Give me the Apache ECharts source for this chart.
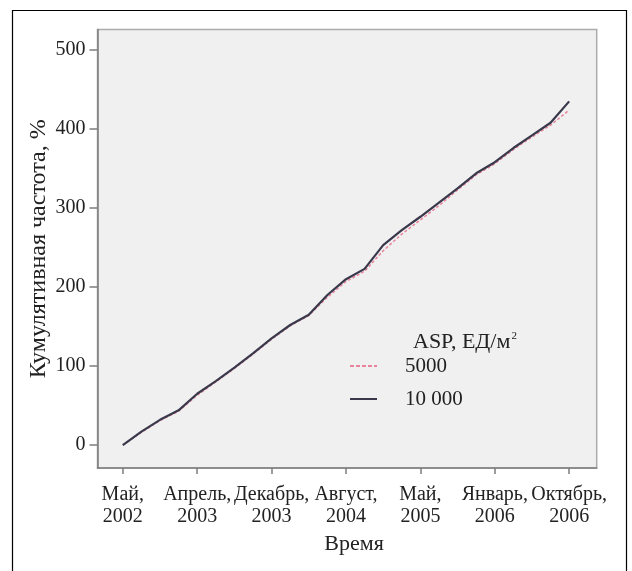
<!DOCTYPE html>
<html>
<head>
<meta charset="utf-8">
<script src="https://cdn.jsdelivr.net/npm/echarts@6/dist/echarts.min.js"></script>
<style>
html,body{margin:0;padding:0;background:#fff;}
#chart{width:632px;height:571px;}
</style>
</head>
<body>
<div id="chart"></div>
<script>
// x positions in tick units (0 = "Май, 2002", 6 = "Октябрь, 2006")
var xPositions = [0,0.25,0.5,0.75,1,1.25,1.5,1.75,2,2.25,2.5,2.75,3,3.25,3.5,3.75,4,4.25,4.5,4.75,5,5.25,5.5,5.75,6];
var series10000 = [0,17,32,44,65,81,98,116,135,152,165,190,210,223,253,272,289,307,325,344,358,376,392,408,435];
var series5000  = [0,16,31,43,63,80,97,115,134,151,164,187,207,220,246,267,285,303,323,342,356,374,390,405,424];
var xTickLabels = ['Май,\n2002','Апрель,\n2003','Декабрь,\n2003','Август,\n2004','Май,\n2005','Январь,\n2006','Октябрь,\n2006'];
var xTickPositions = [0,1,2,3,4,5,6];
var yTicks = [0,100,200,300,400,500];
var seriesNames = ['5000','10 000'];

function pairs(xs, ys){ return xs.map(function(x,i){ return [x, ys[i]]; }); }

var font = 'Liberation Serif';
var pinkIcon = 'path://M0,0H4V2H0Z M6,0H10V2H6Z M12,0H16V2H12Z M18,0H22V2H18Z M24,0H27V2H24Z';
var solidIcon = 'path://M0,0H27V2H0Z';
var chart = echarts.init(document.getElementById('chart'), null, {renderer:'canvas'});
chart.setOption({
  animation:false,
  backgroundColor:'#ffffff',
  textStyle:{fontFamily:font},
  graphic:[
    {type:'rect', shape:{x:12.5,y:10.5,width:614,height:620}, style:{fill:'none', stroke:'#000', lineWidth:1.2}, z:-10},
    {type:'text', left:413, top:331, style:{
      text:'{a|ASP, ЕД/м}{s|2}',
      rich:{a:{fontFamily:font, fontSize:22, fill:'#222', color:'#222'},
            s:{fontFamily:font, fontSize:11, fill:'#222', color:'#222', verticalAlign:'top', padding:[0,0,8,1]}}
    }}
  ],
  grid:{left:97.5, top:29.5, right:35.3, bottom:103, show:true, backgroundColor:'#f0f0f0', borderColor:'#ababab', borderWidth:1.5},
  legend:{
    orient:'vertical', left:350, top:355.5, padding:0, itemWidth:27, itemHeight:2.5, itemGap:12,
    data:[{name:seriesNames[0], icon:pinkIcon},{name:seriesNames[1], icon:solidIcon}],
    textStyle:{fontFamily:font, fontSize:21, lineHeight:21, color:'#222', padding:[0,0,0,23]}
  },
  xAxis:{
    type:'value', min:-0.34, max:6.37,
    name:'Время', nameLocation:'middle', nameGap:63,
    nameTextStyle:{fontFamily:font, fontSize:22, color:'#222', padding:[0,0,0,14]},
    axisLine:{show:true, onZero:false, lineStyle:{color:'#7d7d7d', width:1.5}},
    axisTick:{show:true, length:6, customValues:xTickPositions, lineStyle:{color:'#7d7d7d', width:1.5}},
    axisLabel:{customValues:xTickPositions, margin:16, fontFamily:font, fontSize:20, lineHeight:22, color:'#222',
      hideOverlap:false, showMinLabel:true, showMaxLabel:true,
      formatter:function(v){ return xTickLabels[Math.round(v)]; }},
    splitLine:{show:false}
  },
  yAxis:{
    type:'value', min:-29, max:526,
    name:'Кумулятивная частота, %', nameLocation:'middle', nameGap:47, nameRotate:90, nameMoveOverlap:false,
    nameTextStyle:{fontFamily:font, fontSize:24, color:'#222'},
    axisLine:{show:true, onZero:false, lineStyle:{color:'#7d7d7d', width:1.5}},
    axisTick:{show:true, length:8, customValues:yTicks, lineStyle:{color:'#7d7d7d', width:1.5}},
    axisLabel:{customValues:yTicks, margin:12, fontFamily:font, fontSize:20, color:'#222',
      hideOverlap:false, showMinLabel:true, showMaxLabel:true},
    splitLine:{show:false}
  },
  series:[
    {name:seriesNames[0], type:'line', data:pairs(xPositions, series5000), showSymbol:false, symbol:'none',
     lineStyle:{color:'#e8849c', width:1.5, type:[3,2]}, itemStyle:{color:'#e8849c'}, z:2},
    {name:seriesNames[1], type:'line', data:pairs(xPositions, series10000), showSymbol:false, symbol:'none',
     lineStyle:{color:'#3a394c', width:2.2}, itemStyle:{color:'#3a394c'}, z:3}
  ]
});
</script>
</body>
</html>
